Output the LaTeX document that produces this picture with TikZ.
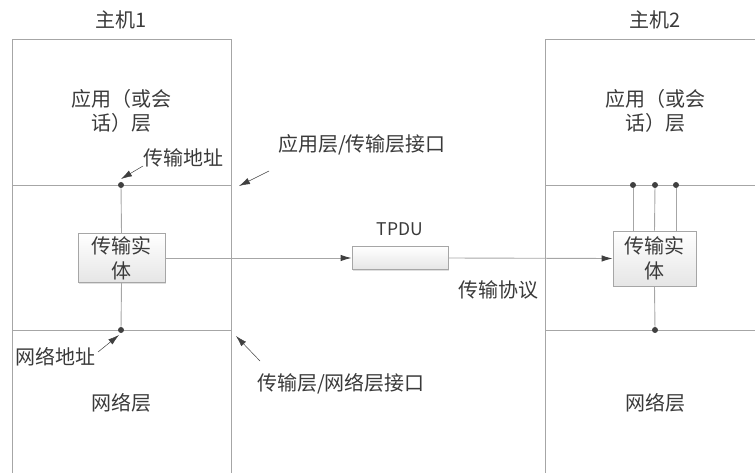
\documentclass[tikz,border=0pt]{standalone}
\usepackage{fontspec}
\setmainfont{Noto Sans CJK SC}
\usetikzlibrary{arrows.meta,shadows}
\definecolor{ln}{HTML}{A6A6A6}
\definecolor{tx}{HTML}{3A3A3A}
\definecolor{ar}{HTML}{404040}
\tikzset{
  lay/.style={draw=ln, line width=0.9pt},
  lbl/.style={text=tx, font=\fontsize{20}{24}\selectfont, inner sep=0pt, align=center},
  ent/.style={draw=ln, line width=0.8pt, top color=white, bottom color=black!10,
    drop shadow={shadow xshift=1.2pt, shadow yshift=-1.2pt, opacity=0.25},
    text=tx, font=\fontsize{20}{25}\selectfont, align=center, inner sep=0pt},
  con/.style={draw=ln, line width=0.9pt},
  tip/.style={-{Latex[length=11pt,width=6.5pt]}, color=ar, line width=0.5pt},
  conarr/.style={draw=ln, line width=0.9pt, -{Latex[length=11pt,width=6.5pt,color=ar]}},
  dot/.style={circle, fill=ar, inner sep=0pt, minimum size=6pt}
}
\begin{document}
\begin{tikzpicture}[x=1pt,y=-1pt]
\useasboundingbox (0,0) rectangle (755,473);
% host frames
\draw[lay] (12,473) -- (12,39) -- (231,39) -- (231,473);
\draw[lay] (12,185) -- (231,185);
\draw[lay] (12,330) -- (231,330);
\draw[lay] (755,39) -- (545,39) -- (545,473);
\draw[lay] (545,185) -- (755,185);
\draw[lay] (545,330) -- (755,330);
% titles
\node[lbl] (h1) at (121,20) {主机1};
\node[lbl] (h2) at (655,20) {主机2};
\node[lbl] (app1) at (121,111) {应用（或会\\话）层};
\node[lbl] (app2) at (655,111) {应用（或会\\话）层};
\node[lbl] (net1) at (121,403) {网络层};
\node[lbl] (net2) at (655,403) {网络层};
% entities
\node[ent, minimum width=87pt, minimum height=49pt] (e1) at (121.5,258) {传输实\\体};
\node[ent, minimum width=83pt, minimum height=55pt] (e2) at (654.5,258.5) {传输实\\体};
\node[ent, minimum width=96pt, minimum height=23pt] (tpdu) at (400,258) {};
\node[lbl, font=\fontsize{17.5}{20}\selectfont] (tpdulbl) at (400,229) {TPDU};
\node[lbl] (proto) at (498,290) {传输协议};
% dots
\node[dot] (d1t) at (121,185) {};
\node[dot] (d1b) at (121,330) {};
\node[dot] (d2a) at (633,185) {};
\node[dot] (d2b) at (655,185) {};
\node[dot] (d2c) at (676,185) {};
\node[dot] (d2d) at (655,330) {};
% entity links
\draw[con] (d1t) -- (e1.north);
\draw[con] (e1.south) -- (d1b);
\draw[con] (d2a) -- (d2a |- e2.north);
\draw[con] (d2b) -- (e2.north);
\draw[con] (d2c) -- (d2c |- e2.north);
\draw[con] (e2.south) -- (d2d);
\draw[conarr] (e1.east) -- (tpdu.west);
\draw[conarr] (tpdu.east) -- (e2.west);
% annotation labels
\node[lbl] (taddr) at (183,158) {传输地址};
\node[lbl] (aif) at (362,145) {应用层/传输层接口};
\node[lbl] (naddr) at (56,357) {网络地址};
\node[lbl] (nif) at (341,384) {传输层/网络层接口};
\coordinate (taddrT) at (143,166);
\coordinate (taddrH) at (121,179);
\coordinate (aifT) at (269,171);
\coordinate (aifH) at (239,186);
\coordinate (naddrT) at (98,352);
\coordinate (naddrH) at (119,335);
\coordinate (nifT) at (260,361);
\coordinate (nifH) at (236,336);
\draw[tip] (taddrT) -- (taddrH);
\draw[tip] (aifT) -- (aifH);
\draw[tip] (naddrT) -- (naddrH);
\draw[tip] (nifT) -- (nifH);
\end{tikzpicture}
\end{document}
